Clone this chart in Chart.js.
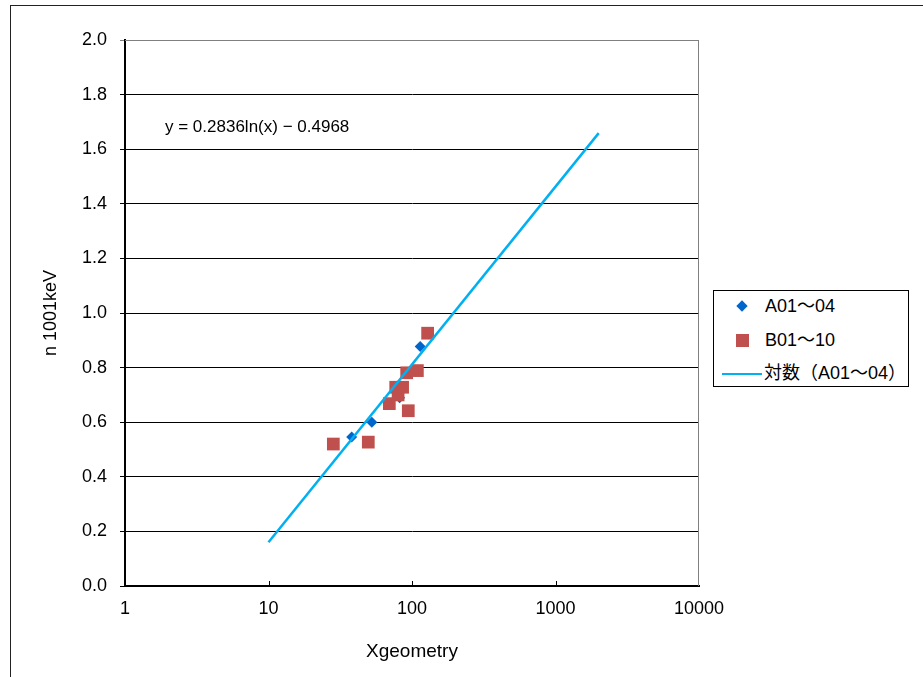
<!DOCTYPE html>
<html>
<head>
<meta charset="utf-8">
<script src="https://cdn.jsdelivr.net/npm/chart.js@4/dist/chart.umd.min.js"></script>
<style>
  body { margin: 0; background: #fff; }
  #wrap { position: relative; width: 923px; height: 677px; overflow: hidden; font-family: "Liberation Sans", "Noto Sans CJK JP", sans-serif; }
  #frame { position: absolute; left: 10px; top: 5px; width: 1000px; height: 800px; border: 1px solid #222; }
  canvas { position: absolute; left: 0; top: 0; }
  #eq { position: absolute; left: 165px; top: 117px; font-size: 17px; color: #000; white-space: nowrap; }
  #legend { position: absolute; left: 713px; top: 290px; width: 194px; height: 95px; border: 1px solid #000; background: #fff; font-size: 18px; }
  .row { position: absolute; left: 0; height: 22px; line-height: 22px; white-space: nowrap; }
  .row span.t { position: absolute; left: 51px; }
  .dia { position: absolute; left: 24px; top: 7px; width: 8px; height: 8px; background: #0066cc; transform: rotate(45deg); }
  .sq { position: absolute; left: 22px; top: 5px; width: 13px; height: 13px; background: #c0504d; }
  .ln { position: absolute; left: 8px; top: 11px; width: 40px; height: 2px; background: #00b0f0; }
</style>
</head>
<body>
<div id="wrap">
  <div id="frame"></div>
  <canvas id="c" width="923" height="677"></canvas>
  <div id="eq">y = 0.2836ln(x) − 0.4968</div>
  <div id="legend">
    <div class="row" style="top:4px"><div class="dia"></div><span class="t">A01～04</span></div>
    <div class="row" style="top:38px"><div class="sq"></div><span class="t">B01～10</span></div>
    <div class="row" style="top:71px"><div class="ln"></div><span class="t" style="left:50px">対数（A01～04）</span></div>
  </div>
</div>
<script>
// データ
const aX = [38, 52.5, 82, 114];
const aY = [0.546, 0.600, 0.690, 0.877];
const bX = [28.3, 49.6, 69.5, 94.2, 77, 86, 91.8, 109, 128.5, 80];
const bY = [0.520, 0.527, 0.668, 0.642, 0.728, 0.728, 0.781, 0.789, 0.926, 0.700];
// 対数近似曲線 (端点)
const trendX = [10, 2000];
const trendY = [0.160, 1.659];
const xTicks = [1, 10, 100, 1000, 10000];

function pts(xs, ys) {
    return xs.map((x, i) => ({ x: x, y: ys[i] }));
}

// 枠線と内向きの目盛り
const framePlugin = {
    id: 'framePlugin',
    afterDatasetsDraw(chart) {
        const { ctx, chartArea: a, scales } = chart;
        ctx.save();
        ctx.strokeStyle = '#808080';
        ctx.lineWidth = 1;
        ctx.beginPath();
        ctx.moveTo(a.left, a.top + 0.5);
        ctx.lineTo(a.right - 0.5, a.top + 0.5);
        ctx.lineTo(a.right - 0.5, a.bottom);
        ctx.stroke();
        ctx.strokeStyle = '#000';
        ctx.beginPath();
        xTicks.slice(1, -1).forEach(v => {
            const x = Math.round(scales.x.getPixelForValue(v)) + 0.5;
            ctx.moveTo(x, a.bottom);
            ctx.lineTo(x, a.bottom - 5);
        });
        ctx.stroke();
        ctx.restore();
    }
};

const fam = '"Liberation Sans", "Noto Sans CJK JP", sans-serif';
const tickFont = { family: fam, size: 18 };

new Chart(document.getElementById('c'), {
    type: 'scatter',
    data: {
        datasets: [
            {
                label: '対数（A01～04）',
                data: pts(trendX, trendY),
                showLine: true,
                borderColor: '#00b0f0',
                borderWidth: 2.5,
                pointRadius: 0,
                order: 0
            },
            {
                label: 'B01～10',
                data: pts(bX, bY),
                pointStyle: 'rect',
                pointRadius: 9,
                backgroundColor: '#c0504d',
                borderColor: '#c0504d',
                borderWidth: 0,
                order: 1
            },
            {
                label: 'A01～04',
                data: pts(aX, aY),
                pointStyle: 'rectRot',
                pointRadius: 5.5,
                backgroundColor: '#0066cc',
                borderColor: '#0066cc',
                borderWidth: 0,
                order: 2
            }
        ]
    },
    options: {
        responsive: false,
        animation: false,
        layout: { padding: { left: 40, top: 40, right: 224, bottom: 10 } },
        plugins: { legend: { display: false }, tooltip: { enabled: false } },
        scales: {
            x: {
                type: 'logarithmic',
                min: 1,
                max: 10000,
                afterBuildTicks: function (scale) {
                    scale.ticks = xTicks.map(v => ({ value: v }));
                },
                afterFit: function (scale) { scale.height = 81; },
                ticks: {
                    color: '#000',
                    font: tickFont,
                    padding: 12,
                    maxRotation: 0,
                    autoSkip: false,
                    callback: v => String(v)
                },
                grid: { display: false, drawTicks: false },
                border: { display: true, color: '#000', width: 2 },
                title: {
                    display: true,
                    text: 'Xgeometry',
                    color: '#000',
                    font: { family: fam, size: 19 },
                    padding: { top: 0, bottom: 4 }
                }
            },
            y: {
                min: 0,
                max: 2,
                afterFit: function (scale) { scale.width = 85; },
                ticks: {
                    stepSize: 0.2,
                    color: '#000',
                    font: tickFont,
                    padding: 13,
                    callback: v => v.toFixed(1)
                },
                grid: {
                    color: ctx => (ctx.tick && ctx.tick.value >= 1.99) ? '#808080' : '#000',
                    lineWidth: 1,
                    drawTicks: true,
                    tickLength: 5
                },
                border: { display: true, color: '#000', width: 2 },
                title: {
                    display: true,
                    text: 'n 1001keV',
                    color: '#000',
                    font: { family: fam, size: 18 },
                    padding: { top: 0, bottom: 0 }
                }
            }
        }
    },
    plugins: [framePlugin]
});
</script>
</body>
</html>
